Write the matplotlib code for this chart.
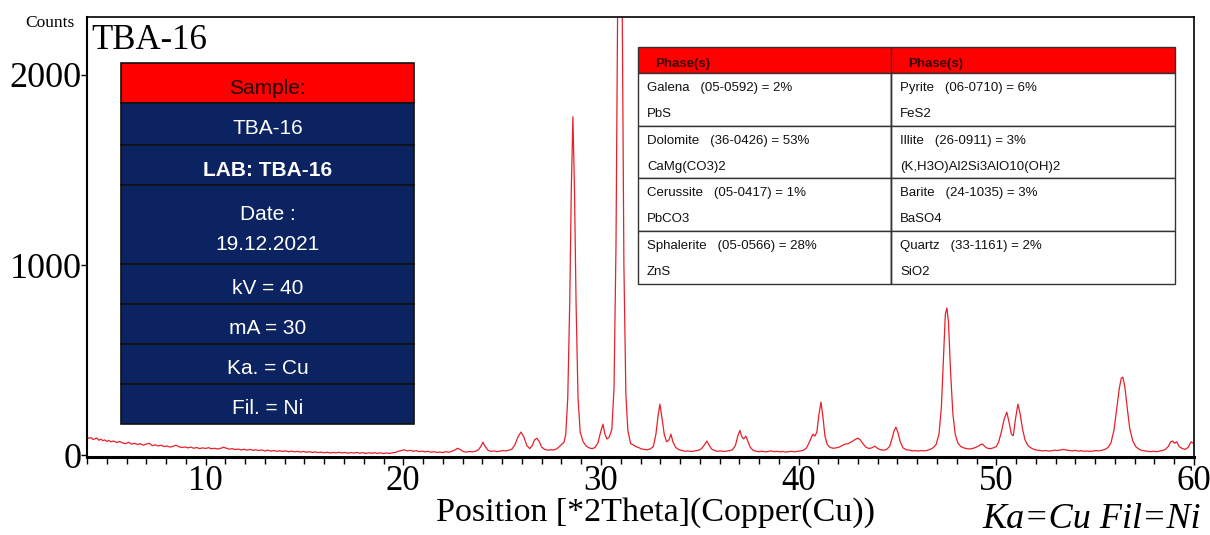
import matplotlib
matplotlib.use("Agg")
import matplotlib.pyplot as plt
from matplotlib.patches import Rectangle

# trace: (2theta in deg, counts)
trace_points = [
    (4.0, 95), (4.1, 88), (4.2, 92), (4.3, 82), (4.4, 86), (4.5, 90), (4.6, 78), (4.7, 84),
    (4.8, 76), (4.9, 80), (5.0, 72), (5.1, 78), (5.2, 70), (5.35, 74), (5.5, 66), (5.65, 72),
    (5.8, 64), (5.95, 60), (6.1, 68), (6.25, 58), (6.4, 62), (6.55, 56), (6.7, 60), (6.85, 52),
    (7.0, 58), (7.15, 62), (7.3, 50), (7.45, 54), (7.6, 48), (7.75, 52), (7.9, 45), (8.05, 48),
    (8.2, 42), (8.35, 46), (8.5, 52), (8.65, 44), (8.8, 40), (8.95, 43), (9.1, 38), (9.25, 42),
    (9.4, 36), (9.55, 40), (9.7, 34), (9.85, 38), (10.0, 35), (10.15, 39), (10.3, 33),
    (10.45, 36), (10.6, 32), (10.75, 35), (10.9, 42), (11.05, 36), (11.2, 31), (11.35, 34),
    (11.5, 29), (11.65, 32), (11.8, 27), (11.95, 31), (12.1, 26), (12.25, 30), (12.4, 25),
    (12.55, 28), (12.7, 24), (12.85, 27), (13.0, 22), (13.15, 26), (13.3, 21), (13.45, 24),
    (13.6, 20), (13.75, 23), (13.9, 19), (14.05, 22), (14.2, 18), (14.35, 21), (14.5, 17),
    (14.65, 20), (14.8, 16), (14.95, 19), (15.1, 15), (15.25, 18), (15.4, 14), (15.55, 17),
    (15.7, 13), (15.85, 16), (16.0, 12), (16.15, 15), (16.3, 11), (16.45, 14), (16.6, 12),
    (16.75, 15), (16.9, 11), (17.05, 14), (17.2, 10), (17.35, 13), (17.5, 11), (17.65, 14),
    (17.8, 10), (17.95, 13), (18.1, 9), (18.25, 12), (18.4, 10), (18.55, 13), (18.7, 9),
    (18.85, 12), (19.0, 8), (19.15, 11), (19.3, 9), (19.45, 12), (19.6, 14), (19.75, 20),
    (19.9, 24), (20.05, 28), (20.2, 22), (20.35, 25), (20.5, 20), (20.65, 23), (20.8, 18),
    (20.95, 21), (21.1, 17), (21.25, 20), (21.4, 15), (21.55, 18), (21.7, 14), (21.85, 16),
    (22.0, 13), (22.15, 18), (22.3, 15), (22.45, 20), (22.6, 26), (22.75, 36), (22.9, 28),
    (23.05, 18), (23.2, 16), (23.35, 19), (23.5, 17), (23.65, 20), (23.8, 28), (23.92, 45),
    (24.03, 68), (24.14, 45), (24.3, 24), (24.45, 20), (24.6, 22), (24.75, 18), (24.9, 21),
    (25.05, 24), (25.2, 22), (25.35, 26), (25.5, 32), (25.65, 55), (25.8, 95), (25.95, 121),
    (26.1, 95), (26.25, 50), (26.4, 34), (26.52, 50), (26.64, 80), (26.76, 89), (26.88, 70),
    (27.0, 42), (27.15, 30), (27.3, 26), (27.45, 28), (27.6, 27), (27.75, 32), (27.9, 45),
    (28.05, 60), (28.13, 68), (28.22, 110), (28.32, 300), (28.42, 800), (28.5, 1400),
    (28.58, 1780), (28.66, 1400), (28.74, 800), (28.84, 300), (28.95, 120), (29.1, 70),
    (29.25, 48), (29.4, 38), (29.55, 34), (29.7, 40), (29.85, 65), (29.98, 120), (30.1, 163),
    (30.2, 110), (30.3, 85), (30.42, 95), (30.55, 135), (30.66, 350), (30.76, 1100),
    (30.86, 2600), (30.96, 3200), (31.06, 2600), (31.16, 1000), (31.26, 320), (31.36, 130),
    (31.5, 60), (31.62, 55), (31.75, 45), (31.9, 40), (32.05, 32), (32.2, 30), (32.35, 28),
    (32.5, 33), (32.65, 45), (32.78, 110), (32.88, 200), (32.98, 268), (33.08, 200),
    (33.2, 110), (33.32, 70), (33.44, 80), (33.54, 110), (33.64, 70), (33.78, 40), (33.95, 28),
    (34.1, 24), (34.25, 20), (34.4, 22), (34.55, 19), (34.7, 21), (34.85, 24), (35.0, 28),
    (35.12, 38), (35.24, 55), (35.36, 74), (35.48, 50), (35.6, 32), (35.75, 24), (35.9, 20),
    (36.05, 22), (36.2, 19), (36.35, 21), (36.5, 23), (36.65, 28), (36.8, 50), (36.92, 100),
    (37.03, 130), (37.13, 95), (37.22, 85), (37.33, 100), (37.44, 70), (37.56, 40),
    (37.7, 25), (37.85, 20), (38.0, 18), (38.15, 20), (38.3, 17), (38.45, 19), (38.6, 22),
    (38.75, 18), (38.9, 20), (39.05, 17), (39.2, 19), (39.35, 16), (39.5, 18), (39.65, 20),
    (39.8, 17), (39.95, 20), (40.1, 22), (40.25, 26), (40.4, 38), (40.55, 70), (40.65, 95),
    (40.72, 110), (40.82, 100), (40.92, 120), (41.02, 210), (41.13, 279), (41.23, 200),
    (41.33, 100), (41.45, 55), (41.6, 40), (41.75, 36), (41.9, 38), (42.05, 42), (42.2, 50),
    (42.35, 58), (42.5, 60), (42.6, 66), (42.72, 72), (42.85, 82), (43.0, 89), (43.12, 80),
    (43.25, 60), (43.4, 42), (43.55, 35), (43.7, 38), (43.86, 47), (44.0, 35), (44.15, 28),
    (44.3, 26), (44.45, 30), (44.6, 45), (44.72, 85), (44.82, 125), (44.92, 147),
    (45.02, 120), (45.14, 70), (45.28, 38), (45.45, 28), (45.6, 26), (45.75, 22), (45.9, 24),
    (46.05, 21), (46.2, 24), (46.35, 22), (46.5, 25), (46.65, 30), (46.8, 38), (46.95, 55),
    (47.1, 110), (47.22, 250), (47.32, 500), (47.42, 740), (47.5, 774), (47.58, 700),
    (47.68, 450), (47.8, 220), (47.92, 110), (48.05, 65), (48.2, 45), (48.35, 38), (48.5, 34),
    (48.65, 32), (48.8, 35), (48.95, 40), (49.1, 48), (49.2, 55), (49.3, 58), (49.42, 45),
    (49.55, 36), (49.7, 34), (49.85, 38), (50.0, 45), (50.12, 70), (50.25, 120), (50.4, 190),
    (50.53, 226), (50.65, 170), (50.76, 110), (50.86, 102), (50.97, 190), (51.09, 268),
    (51.2, 220), (51.32, 140), (51.45, 80), (51.6, 50), (51.75, 38), (51.9, 30), (52.05, 26),
    (52.2, 24), (52.35, 22), (52.5, 24), (52.65, 21), (52.8, 23), (52.95, 26), (53.1, 24),
    (53.25, 27), (53.4, 30), (53.55, 26), (53.7, 24), (53.85, 22), (54.0, 25), (54.15, 21),
    (54.3, 23), (54.45, 20), (54.6, 22), (54.75, 19), (54.9, 22), (55.05, 24), (55.2, 22),
    (55.35, 26), (55.5, 30), (55.65, 40), (55.8, 65), (55.95, 130), (56.1, 250), (56.22, 350),
    (56.32, 405), (56.4, 410), (56.5, 360), (56.62, 250), (56.75, 140), (56.9, 75),
    (57.05, 45), (57.2, 32), (57.35, 25), (57.5, 22), (57.65, 20), (57.8, 18), (57.95, 20),
    (58.1, 18), (58.25, 21), (58.4, 24), (58.55, 30), (58.7, 45), (58.82, 70), (58.92, 74),
    (59.02, 62), (59.12, 70), (59.25, 45), (59.4, 35), (59.55, 30), (59.7, 40), (59.85, 70),
    (60.0, 60),
]
two_theta = [p[0] for p in trace_points]
counts = [p[1] for p in trace_points]

sample_rows = ["Sample:", "TBA-16", "LAB: TBA-16", "Date :\n19.12.2021",
               "kV = 40", "mA = 30", "Ka. = Cu", "Fil. = Ni"]
phase_header = ["Phase(s)", "Phase(s)"]
phases_left = [("Galena   (05-0592) = 2%", "PbS"),
               ("Dolomite   (36-0426) = 53%", "CaMg(CO3)2"),
               ("Cerussite   (05-0417) = 1%", "PbCO3"),
               ("Sphalerite   (05-0566) = 28%", "ZnS")]
phases_right = [("Pyrite   (06-0710) = 6%", "FeS2"),
                ("Illite   (26-0911) = 3%", "(K,H3O)Al2Si3AlO10(OH)2"),
                ("Barite   (24-1035) = 3%", "BaSO4"),
                ("Quartz   (33-1161) = 2%", "SiO2")]

W, H = 1210, 535
serif = "Liberation Serif"
sans = ["Liberation Sans Narrow", "Liberation Sans"]
navy = "#0b2361"
red = "#ff0000"

fig = plt.figure(figsize=(W / 100, H / 100), dpi=100)
ax = fig.add_axes([87 / W, 1 - 457 / H, (1194 - 87) / W, (457 - 17) / H])
ax.plot(two_theta, counts, color="#e8202a", lw=0.9)
ax.set_xlim(4, 60)
ax.set_ylim(-10, 2305)
ax.set_xticks([10, 20, 30, 40, 50, 60])
ax.set_xticks(range(4, 61), minor=True)
ax.set_yticks([0, 1000, 2000])
ax.tick_params(axis="x", which="major", direction="out", length=6, width=1,
               labelsize=25, pad=0)
ax.tick_params(axis="x", which="minor", direction="out", length=5, width=1)
ax.tick_params(axis="y", which="major", direction="out", length=4, width=1,
               labelsize=26, pad=0)
for lab in ax.get_xticklabels() + ax.get_yticklabels():
    lab.set_fontfamily(serif)
for side, lw in [("left", 1.5), ("bottom", 2.2), ("top", 1.2), ("right", 1.2)]:
    ax.spines[side].set_linewidth(lw)

ax.text(0.004, 0.985, "TBA-16", transform=ax.transAxes, ha="left", va="top",
        fontsize=25, family=serif)

# overlay in pixel units for the text boxes
ov = fig.add_axes([0, 0, 1, 1], zorder=5)
ov.set_xlim(0, W)
ov.set_ylim(H, 0)
ov.axis("off")
ov.patch.set_alpha(0)

ov.text(50, 23, "Counts", ha="center", va="center", fontsize=12.5, family=serif)
ov.text(656, 513, "Position [*2Theta](Copper(Cu))", ha="center", va="center",
        fontsize=24.5, family=serif)
ov.text(1092, 520, "Ka=Cu Fil=Ni", ha="center", va="center", fontsize=26,
        family=serif, style="italic")

# sample box
edges = [63, 103, 145, 185, 264, 304, 344, 384, 424]
x0, x1 = 121, 414
for i, txt in enumerate(sample_rows):
    top, bot = edges[i], edges[i + 1]
    ov.add_patch(Rectangle((x0, top), x1 - x0, bot - top,
                           facecolor=red if i == 0 else navy,
                           edgecolor="#111111", lw=1.2))
    ov.text((x0 + x1) / 2, (top + bot) / 2 + 5, txt, ha="center", va="center",
            fontsize=15, family=sans, color="#220000" if i == 0 else "white",
            fontweight="bold" if txt.startswith("LAB") else "normal",
            linespacing=1.75)

# phase table
tx0, tx1, tmid = 638, 1175, 891
rows = [47, 73, 126, 178, 231, 284]
ov.add_patch(Rectangle((tx0, rows[0]), tx1 - tx0, rows[1] - rows[0],
                       facecolor=red, edgecolor="#333333", lw=1))
for xs, hd in zip([tx0, tmid], phase_header):
    ov.text(xs + 17, (rows[0] + rows[1]) / 2 + 4, hd, ha="left", va="center",
            fontsize=9.5, family=sans, fontweight="bold", color="#3a0000")
for i in range(4):
    top, bot = rows[i + 1], rows[i + 2]
    for xa, xb, ph in [(tx0, tmid, phases_left[i]), (tmid, tx1, phases_right[i])]:
        ov.add_patch(Rectangle((xa, top), xb - xa, bot - top, facecolor="white",
                               edgecolor="#333333", lw=1))
        ov.text(xa + 9, top + 15, ph[0], ha="left", va="center", fontsize=9.5,
                family=sans, color="#111111")
        ov.text(xa + 9, top + 41, ph[1], ha="left", va="center", fontsize=9.5,
                family=sans, color="#111111")
ov.add_patch(Rectangle((tmid, rows[0]), 0, rows[-1] - rows[0], edgecolor="#333333", lw=1))

fig.savefig("out.png", dpi=100)
